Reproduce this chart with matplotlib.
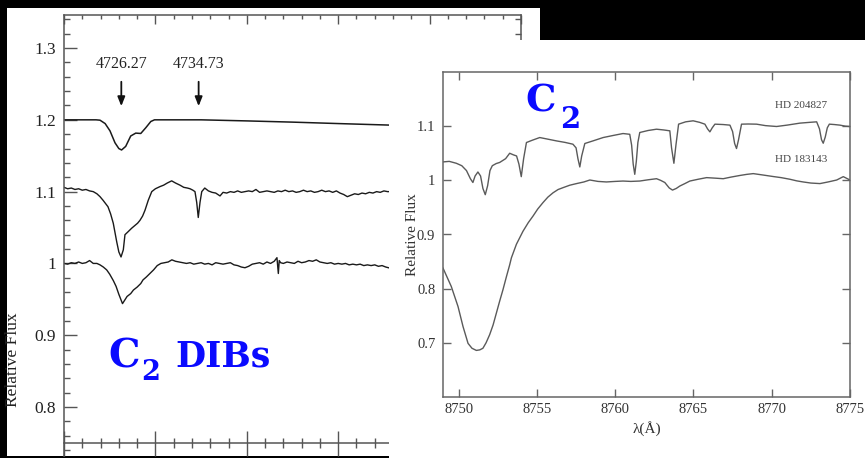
import matplotlib
matplotlib.use("Agg")
import matplotlib.pyplot as plt
from matplotlib.ticker import MultipleLocator, FuncFormatter, FixedLocator

# ---- left panel: C2 DIBs near 4726 / 4734 A ----
model_wl = [4720.0, 4723.5, 4723.94, 4724.5, 4725.03, 4725.58, 4726.0, 4726.3, 4726.75,
            4727.3, 4727.85, 4728.4, 4728.95, 4729.5, 4729.9, 4735.0, 4740.0, 4745.0,
            4750.0, 4755.8]
model_fx = [1.200, 1.200, 1.1995, 1.1948, 1.1847, 1.168, 1.160, 1.158, 1.163,
            1.1775, 1.1815, 1.181, 1.189, 1.1977, 1.200, 1.200, 1.1985, 1.1968,
            1.1948, 1.1926]

star1_wl = [4720.0, 4720.4, 4720.8, 4721.2, 4721.6, 4722.0, 4722.4, 4722.8, 4723.2, 4723.6,
            4723.94, 4724.27, 4724.81, 4725.1, 4725.39, 4725.77, 4726.0, 4726.24, 4726.49,
            4726.67, 4727.0, 4727.4, 4727.77, 4728.05, 4728.31, 4728.6, 4728.86, 4729.22,
            4729.6, 4730.0, 4730.5, 4730.9, 4731.3, 4731.78, 4732.2,
            4732.69, 4733.1, 4733.5, 4733.79, 4734.1, 4734.33, 4734.52, 4734.69, 4734.88,
            4735.07, 4735.4, 4735.8, 4736.2, 4736.6, 4737.07, 4737.4, 4737.8, 4738.2,
            4738.6, 4739.0, 4739.4, 4739.8, 4740.2, 4740.6, 4741.0, 4741.4, 4741.8,
            4742.2, 4742.6, 4743.0, 4743.4, 4743.8, 4744.2, 4744.6, 4745.0, 4745.4,
            4745.8, 4746.2, 4746.6, 4747.0, 4747.4, 4747.8, 4748.2, 4748.6, 4749.0,
            4749.4, 4749.8, 4750.2, 4750.6, 4751.0, 4751.4, 4751.8, 4752.2, 4752.6,
            4753.0, 4753.4, 4753.8, 4754.2, 4754.6, 4755.0, 4755.4, 4755.8]
star1_fx = [1.106, 1.104, 1.105, 1.103, 1.104, 1.102, 1.103, 1.101, 1.100, 1.097,
            1.093, 1.088, 1.079, 1.069, 1.056, 1.030, 1.016, 1.009, 1.019,
            1.040, 1.044, 1.049, 1.053, 1.056, 1.060, 1.066, 1.074, 1.088,
            1.100, 1.104, 1.107, 1.109, 1.112, 1.115, 1.112,
            1.109, 1.106, 1.105, 1.104, 1.102, 1.100, 1.085, 1.064, 1.085,
            1.100, 1.105, 1.101, 1.099, 1.098, 1.094, 1.099, 1.098, 1.100,
            1.099, 1.101, 1.099, 1.100, 1.101, 1.100, 1.103, 1.099, 1.100,
            1.101, 1.100, 1.099, 1.101, 1.100, 1.102, 1.100, 1.101, 1.099,
            1.100, 1.102, 1.100, 1.101, 1.099, 1.100, 1.102, 1.100, 1.101,
            1.099, 1.101, 1.098, 1.096, 1.093, 1.095, 1.097, 1.096, 1.098,
            1.097, 1.099, 1.098, 1.100, 1.099, 1.101, 1.100, 1.100]

star2_wl = [4720.0, 4720.4, 4720.8, 4721.2, 4721.6, 4722.0, 4722.4, 4722.8, 4723.2, 4723.6,
            4723.94, 4724.3, 4724.67, 4725.0, 4725.4, 4725.7, 4726.0, 4726.4, 4726.7,
            4726.9, 4727.3, 4727.6, 4728.0, 4728.4, 4728.64, 4729.0, 4729.4, 4729.8,
            4730.2, 4730.6, 4731.0, 4731.4, 4731.8, 4732.2, 4732.6, 4733.0, 4733.4,
            4733.8, 4734.2, 4734.6, 4735.0, 4735.4, 4735.8, 4736.2, 4736.6, 4737.0,
            4737.4, 4737.8, 4738.2, 4738.6, 4739.0, 4739.4, 4739.8, 4740.2, 4740.6,
            4741.0, 4741.4, 4741.8, 4742.2, 4742.6, 4743.0, 4743.3, 4743.45, 4743.55,
            4743.7, 4744.0, 4744.4, 4744.8, 4745.2, 4745.6, 4746.0, 4746.4, 4746.8,
            4747.2, 4747.6, 4748.0, 4748.4, 4748.8, 4749.2, 4749.6, 4750.0, 4750.4,
            4750.8, 4751.2, 4751.6, 4752.0, 4752.4, 4752.8, 4753.2, 4753.6, 4754.0,
            4754.4, 4754.8, 4755.2, 4755.8]
star2_fx = [1.000, 0.999, 1.001, 1.000, 1.002, 1.000, 1.001, 1.004, 1.000, 1.000,
            0.998, 0.995, 0.991, 0.985, 0.976, 0.968, 0.957, 0.944, 0.950,
            0.954, 0.958, 0.963, 0.967, 0.972, 0.977, 0.981, 0.986, 0.991,
            0.997, 1.000, 1.001, 1.002, 1.005, 1.003, 1.002, 1.001, 1.000,
            1.001, 0.999, 1.000, 1.001, 0.999, 1.000, 0.998, 1.001, 1.000,
            0.999, 1.000, 1.001, 0.998, 0.997, 0.995, 0.994, 0.996, 0.999,
            1.000, 1.001, 0.999, 1.002, 1.000, 1.003, 1.008, 0.986, 1.004,
            1.001, 1.000, 1.002, 1.001, 1.000, 1.003, 1.001, 1.002, 1.004,
            1.003, 1.005, 1.002, 1.001, 1.000, 1.001, 0.999, 1.000, 0.999,
            1.000, 0.998, 0.999, 0.998, 0.999, 0.997, 0.998, 0.997, 0.998,
            0.996, 0.997, 0.995, 0.993]

dib_centres = [4726.27, 4734.73]
dib_labels = ["4726.27", "4734.73"]

# ---- right panel: C2 lines near 8750-8775 A ----
hd204827_wl = [8749.0, 8749.4, 8749.85, 8750.2, 8750.5, 8750.75, 8750.91, 8751.05, 8751.23,
               8751.4, 8751.55, 8751.7, 8751.85, 8752.0, 8752.15, 8752.4, 8752.62, 8753.0,
               8753.26, 8753.5, 8753.7, 8753.85, 8754.0, 8754.15, 8754.33, 8754.7, 8755.18,
               8755.7, 8756.25, 8756.8, 8757.3, 8757.5, 8757.62, 8757.74, 8757.86, 8758.06,
               8758.6, 8759.23, 8759.9, 8760.5, 8760.93, 8761.05, 8761.15, 8761.25, 8761.35,
               8761.45, 8761.57, 8762.1, 8762.64, 8763.1, 8763.49, 8763.6, 8763.75, 8763.88,
               8764.05, 8764.5, 8764.98, 8765.4, 8765.73, 8765.9, 8766.05, 8766.2, 8766.37,
               8766.9, 8767.33, 8767.5, 8767.63, 8767.75, 8767.88, 8768.07, 8768.5, 8769.03,
               8769.6, 8770.31, 8771.0, 8771.8, 8772.4, 8772.87, 8773.05, 8773.18, 8773.29,
               8773.42, 8773.55, 8773.68, 8774.0, 8774.36, 8774.7, 8775.0]
hd204827_fx = [1.034, 1.035, 1.0315, 1.027, 1.018, 1.003, 0.996, 1.008, 1.0154,
               1.008, 0.985, 0.9735, 0.990, 1.018, 1.027, 1.031, 1.033, 1.040,
               1.050, 1.047, 1.045, 1.030, 1.0068, 1.040, 1.0698, 1.074, 1.079,
               1.076, 1.0728, 1.070, 1.0667, 1.060, 1.040, 1.0247, 1.045, 1.068,
               1.073, 1.079, 1.083, 1.0864, 1.085, 1.065, 1.030, 1.0111, 1.035,
               1.070, 1.0883, 1.092, 1.0944, 1.093, 1.0914, 1.060, 1.0315, 1.065,
               1.1037, 1.108, 1.1099, 1.107, 1.1037, 1.095, 1.0895, 1.097, 1.1037,
               1.103, 1.1019, 1.090, 1.068, 1.0587, 1.075, 1.1037, 1.104, 1.1037,
               1.101, 1.0994, 1.102, 1.1056, 1.107, 1.108, 1.095, 1.075, 1.0685,
               1.080, 1.097, 1.1037, 1.103, 1.1019, 1.100, 1.0994]

hd183143_wl = [8749.0, 8749.53, 8749.96, 8750.28, 8750.6, 8750.85, 8751.13, 8751.35, 8751.55,
               8751.75, 8751.98, 8752.2, 8752.41, 8752.62, 8752.83, 8753.05, 8753.26, 8753.37,
               8753.69, 8754.11, 8754.45, 8754.75, 8755.05, 8755.39, 8755.7, 8756.03, 8756.35,
               8756.67, 8757.1, 8757.53, 8758.0, 8758.38, 8758.9, 8759.44, 8760.0, 8760.5,
               8761.0, 8761.57, 8762.1, 8762.64, 8762.9, 8763.17, 8763.45, 8763.66, 8763.9,
               8764.13, 8764.45, 8764.77, 8765.3, 8765.84, 8766.4, 8766.9, 8767.4, 8767.97,
               8768.4, 8768.82, 8769.4, 8770.1, 8770.6, 8771.16, 8771.6, 8772.01, 8772.5,
               8773.08, 8773.6, 8774.15, 8774.57, 8775.0]
hd183143_fx = [0.838, 0.804, 0.767, 0.730, 0.699, 0.690, 0.686, 0.687, 0.690,
               0.700, 0.715, 0.733, 0.755, 0.777, 0.798, 0.822, 0.844, 0.857,
               0.882, 0.906, 0.922, 0.934, 0.947, 0.959, 0.969, 0.977, 0.983,
               0.9865, 0.991, 0.994, 0.997, 1.0006, 0.998, 0.997, 0.998, 0.9987,
               0.998, 0.9987, 1.001, 1.003, 1.000, 0.996, 0.986, 0.982, 0.985,
               0.9895, 0.994, 0.9987, 1.002, 1.005, 1.004, 1.003, 1.006, 1.009,
               1.011, 1.0124, 1.010, 1.007, 1.005, 1.002, 0.999, 0.997, 0.995,
               0.994, 0.997, 1.0006, 1.0068, 1.0006]

star_names = ["HD 204827", "HD 183143"]
r_yticks = [0.7, 0.8, 0.9, 1.0, 1.1]
r_xticks = [8750, 8755, 8760, 8765, 8770, 8775]

SERIF = "Liberation Serif"
BLUE = "#0a0aff"
W, H = 865, 458


def fr(x0, y0, x1, y1):
    # pixel box (top-left origin) -> figure fraction rect
    return [x0 / W, 1 - y1 / H, (x1 - x0) / W, (y1 - y0) / H]


def blank(rect, z):
    a = fig.add_axes(rect, zorder=z)
    a.set_facecolor("white")
    a.set_xticks([]); a.set_yticks([])
    for s in a.spines.values():
        s.set_visible(False)
    return a


fig = plt.figure(figsize=(W / 100, H / 100), dpi=100, facecolor="black")

# left panel
blank(fr(7, 8, 540, 456), 1)
axL = fig.add_axes(fr(64, 15, 521, 456), zorder=2)
axL.set_facecolor("none")
axL.plot(model_wl, model_fx, color="#1a1a1a", lw=1.1)
axL.plot(star1_wl, star1_fx, color="#1a1a1a", lw=1.0)
axL.plot(star2_wl, star2_fx, color="#1a1a1a", lw=1.0)
axL.set_xlim(4720, 4770)
axL.set_ylim(0.7318, 1.346)
for c, lab in zip(dib_centres, dib_labels):
    axL.annotate("", xy=(c, 1.219), xytext=(c, 1.253),
                 arrowprops=dict(arrowstyle="-|>,head_width=0.22,head_length=0.55",
                                 color="#111111", lw=1.3, shrinkA=0, shrinkB=0))
    axL.text(c, 1.278, lab, ha="center", va="center", fontsize=11.5,
             family=SERIF, color="#222222")

for s in axL.spines.values():
    s.set_color("#555555"); s.set_linewidth(1.1)
axL.spines["top"].set_visible(False)
axL.spines["bottom"].set_position(("data", 0.75))
axL.xaxis.set_major_locator(MultipleLocator(10))
axL.xaxis.set_minor_locator(MultipleLocator(2))
axL.yaxis.set_major_locator(MultipleLocator(0.1))
axL.yaxis.set_minor_locator(MultipleLocator(0.02))
axL.yaxis.set_major_formatter(FuncFormatter(lambda v, p: f"{v:g}"))
axL.tick_params(axis="x", which="both", direction="inout", labelbottom=False,
                color="#555555", width=1.0)
axL.tick_params(axis="x", which="major", length=18)
axL.tick_params(axis="x", which="minor", length=7)
axL.tick_params(axis="y", which="both", direction="in", left=True, right=True,
                color="#555555", width=1.0, pad=5.8, labelsize=12.5, labelcolor="#222222")
axL.tick_params(axis="y", which="major", length=9)
axL.tick_params(axis="y", which="minor", length=4.5)
for t in axL.get_yticklabels():
    t.set_family(SERIF)
top = axL.secondary_xaxis("top")
top.xaxis.set_major_locator(MultipleLocator(10))
top.xaxis.set_minor_locator(MultipleLocator(2))
top.tick_params(axis="x", which="both", direction="in", labeltop=False,
                color="#555555", width=1.0)
top.tick_params(axis="x", which="major", length=6.5)
top.tick_params(axis="x", which="minor", length=3)
top.spines["top"].set_color("#555555"); top.spines["top"].set_linewidth(1.1)

fig.text(13.5 / W, 1 - 360 / H, "Relative Flux", rotation=90, ha="center", va="center",
         fontsize=12.5, family=SERIF, color="#222222", zorder=5)
big = dict(family="DejaVu Serif", weight="bold", color=BLUE, ha="left", va="baseline")
fig.text(108 / W, 1 - 367 / H, "C", fontsize=28.5, zorder=5, **big)
fig.text(141 / W, 1 - 380 / H, "2", fontsize=19.5, zorder=5, **big)
fig.text(175 / W, 1 - 366.5 / H, "DIBs", fontsize=25, zorder=5, **big)

# right panel
blank(fr(389, 40, 865, 458), 3)
axR = fig.add_axes(fr(443, 72, 850, 397), zorder=4)
axR.set_facecolor("none")
axR.plot(hd204827_wl, hd204827_fx, color="#5a5a5a", lw=1.0)
axR.plot(hd183143_wl, hd183143_fx, color="#5a5a5a", lw=1.0)
axR.set_xlim(8749, 8775)
axR.set_ylim(0.6, 1.2)
axR.xaxis.set_major_locator(FixedLocator(r_xticks))
axR.yaxis.set_major_locator(FixedLocator(r_yticks))
axR.yaxis.set_major_formatter(FuncFormatter(lambda v, p: f"{v:g}"))
axR.tick_params(which="both", direction="in", top=True, right=True, length=5.8,
                width=1.0, color="#666666", labelsize=10.5, labelcolor="#333333")
axR.tick_params(axis="x", pad=4)
axR.tick_params(axis="y", pad=5.5)
for t in axR.get_xticklabels() + axR.get_yticklabels():
    t.set_family(SERIF)
for s in axR.spines.values():
    s.set_color("#666666"); s.set_linewidth(1.1)
axR.set_xlabel("λ(Å)", fontsize=11, family=SERIF, color="#333333")
axR.xaxis.set_label_coords(0.5, -0.074)
axR.set_ylabel("Relative Flux", fontsize=11, family=SERIF, color="#333333")
axR.yaxis.set_label_coords(-0.06, 0.5)
axR.text(8770.2, 1.139, star_names[0], fontsize=8, family=SERIF, color="#444444",
         ha="left", va="center")
axR.text(8770.2, 1.039, star_names[1], fontsize=8, family=SERIF, color="#444444",
         ha="left", va="center")

fig.text(525 / W, 1 - 111.7 / H, "C", fontsize=27.5, zorder=6, **big)
fig.text(560 / W, 1 - 128.3 / H, "2", fontsize=21, zorder=6, **big)

fig.savefig("out.png", dpi=100, facecolor=fig.get_facecolor())
print("saved out.png")
